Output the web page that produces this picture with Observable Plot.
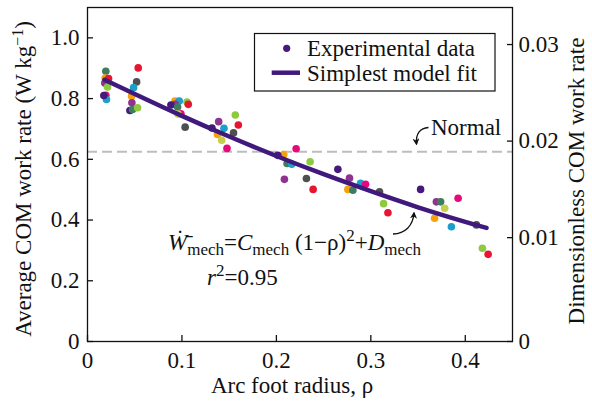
<!DOCTYPE html>
<html><head><meta charset="utf-8">
<script src="https://cdn.jsdelivr.net/npm/d3@7"></script>
<script src="https://cdn.jsdelivr.net/npm/@observablehq/plot@0.6"></script>
<style>
body{margin:0;background:#fff}
</style>
</head><body><div id="chart"></div>
<script>
// Experimental data (arc foot radius, average COM work rate, subject)
const rho = [0.0194,0.0187,0.0223,0.0183,0.0212,0.0194,0.0201,0.0173,
  0.0537,0.0520,0.0488,0.0467,0.0470,0.0449,0.0477,0.0530,
  0.0926,0.0971,0.0929,0.0883,0.1053,0.1067,0.0954,0.0989,0.0958,0.1034,
  0.1389,0.1565,0.1597,0.1445,0.1546,0.1318,0.1376,0.1421,0.1477,
  0.2209,0.2078,0.2015,0.2113,0.2163,0.2357,0.2085,0.2318,0.2389,
  0.2651,0.2774,0.2891,0.2944,0.2757,0.2810,0.3092,0.3135,0.3181,
  0.3527,0.3694,0.3739,0.3782,0.3924,0.3675,0.3853,0.4118,0.4181,0.4242];
const work = [0.890,0.868,0.866,0.851,0.838,0.811,0.797,0.810,
  0.901,0.855,0.836,0.808,0.786,0.761,0.764,0.770,
  0.792,0.792,0.781,0.779,0.789,0.781,0.772,0.750,0.749,0.706,
  0.724,0.746,0.713,0.702,0.687,0.703,0.682,0.663,0.636,
  0.635,0.616,0.613,0.586,0.584,0.592,0.534,0.537,0.501,
  0.567,0.538,0.521,0.518,0.501,0.498,0.493,0.454,0.424,
  0.501,0.460,0.460,0.439,0.472,0.406,0.378,0.384,0.307,0.287];
const subject = ["S2","S3","S4","S10","S8","S5","S6","S1",
  "S4","S7","S6","S3","S10","S1","S2","S8",
  "S3","S6","S10","S1","S8","S4","S2","S5","S9","S7",
  "S10","S8","S4","S6","S7","S1","S3","S9","S5",
  "S5","S3","S1","S2","S6","S8","S10","S7","S4",
  "S1","S10","S6","S5","S3","S2","S7","S8","S4",
  "S1","S10","S2","S9","S5","S3","S6","S7","S8","S4"];
const subjects = ["S1","S2","S3","S4","S5","S6","S7","S8","S9","S10"];
const subjectColors = ["#46197d","#3f7d5e","#f4a00f","#e81530","#e5097b","#1ba0cb","#4e5050","#8dca3d","#c5cf4a","#8e3490"];

// Simplest model fit
const fitRho  = [0.018,0.05,0.10,0.15,0.20,0.25,0.30,0.35,0.40,0.4225];
const fitWork = [0.862,0.815,0.743,0.675,0.611,0.551,0.495,0.442,0.394,0.374];

const normalLevel = 0.625;
const xTicks = [0,0.1,0.2,0.3,0.4];
const yTicks = [0,0.2,0.4,0.6,0.8,1.0];
const rightTickLabels = ["0","0.01","0.02","0.03"];
const rightTickAt = [0,0.342,0.660,0.978];

const points = rho.map((r,i)=>({rho:r, work:work[i], subject:subject[i]}));
const fit = fitRho.map((r,i)=>({rho:r, work:fitWork[i]}));

const FS = 23;
const SERIF = "'Liberation Serif', 'Times New Roman', serif";
const plot = Plot.plot({
  width: 592, height: 404,
  marginLeft: 87, marginRight: 80, marginTop: 7, marginBottom: 63,
  style: {fontSize: FS+"px", color:"#111", background:"#fff"},
  x: {domain:[0,0.45]},
  y: {domain:[0,1.1]},
  color: {domain: subjects, range: subjectColors},
  marks: [
    Plot.ruleY([normalLevel], {stroke:"#bdbdbd", strokeWidth:2, strokeDasharray:"10,5"}),
    Plot.dot(points, {x:"rho", y:"work", fill:"subject", r:3.8}),
    Plot.line(fit, {x:"rho", y:"work", stroke:"#40197c", strokeWidth:4.5, curve:"natural"}),
    Plot.frame({stroke:"#111", strokeWidth:1.3}),
    Plot.axisX({ticks:xTicks, tickSize:-6, tickPadding:16, fontSize:FS, label:null, strokeWidth:1.3,
      tickFormat: d => d===0 ? "0" : d.toFixed(1)}),
    Plot.axisY({ticks:yTicks, tickSize:-6, tickPadding:14, fontSize:FS, label:null, strokeWidth:1.3,
      tickFormat: d => d===0 ? "0" : d.toFixed(1)}),
    Plot.axisY({anchor:"right", ticks:rightTickAt, tickSize:-6, tickPadding:12, fontSize:FS, label:null, strokeWidth:1.3,
      tickFormat: d => rightTickLabels[rightTickAt.indexOf(d)]})
  ]
});
document.getElementById("chart").appendChild(plot);

const svg = d3.select(plot);
const g = svg.append("g").attr("fill","#111").attr("text-anchor","start");

// axis titles
g.append("text").attr("x",292).attr("y",393).attr("text-anchor","middle").attr("font-size",FS)
  .text("Arc foot radius, ρ");
const yl = g.append("text").attr("transform","translate(31,179) rotate(-90)").attr("text-anchor","middle").attr("font-size",FS);
yl.append("tspan").text("Average COM work rate (W kg");
yl.append("tspan").attr("dy",-8).attr("font-size",16).text("−1");
yl.append("tspan").attr("dy",8).text(")");
g.append("text").attr("transform","translate(584,181) rotate(-90)").attr("text-anchor","middle").attr("font-size",FS)
  .text("Dimensionless COM work rate");

// legend
const lg = svg.append("g").attr("text-anchor","start");
lg.append("rect").attr("x",254.5).attr("y",33.5).attr("width",240.5).attr("height",57.5)
  .attr("fill","#fff").attr("stroke","#111").attr("stroke-width",1.2);
lg.append("circle").attr("cx",286.7).attr("cy",48.3).attr("r",3.6).attr("fill","#46197d");
lg.append("line").attr("x1",271.7).attr("x2",300).attr("y1",72.7).attr("y2",72.7).attr("stroke","#40197c").attr("stroke-width",4.5);
lg.append("text").attr("x",307).attr("y",56).attr("font-size",FS).attr("fill","#111").text("Experimental data");
lg.append("text").attr("x",307).attr("y",81).attr("font-size",FS).attr("fill","#111").text("Simplest model fit");

// arrow marker
const defs = svg.append("defs");
defs.append("marker").attr("id","ah").attr("viewBox","0 0 10 10").attr("refX",8).attr("refY",5)
  .attr("markerWidth",7).attr("markerHeight",7).attr("orient","auto-start-reverse")
  .attr("markerUnits","userSpaceOnUse")
  .append("path").attr("d","M0,0 L10,5 L0,10 L3,5 Z").attr("fill","#111");

// Normal annotation
g.append("text").attr("x",431).attr("y",135).attr("font-size",FS).text("Normal");
g.append("path").attr("d","M416.5,144 C415.5,134 420,128 428.5,127.5").attr("fill","none")
  .attr("stroke","#111").attr("stroke-width",1.3).attr("marker-start","url(#ah)");

// Formula annotation
g.append("path").attr("d","M393,234 C405,233.5 413,226 414,213").attr("fill","none")
  .attr("stroke","#111").attr("stroke-width",1.3).attr("marker-end","url(#ah)");
const f = g.append("text").attr("x",168).attr("y",250).attr("font-size",FS);
f.append("tspan").attr("font-style","italic").text("W\u0307\u0304");
f.append("tspan").attr("dy",5).attr("font-size",17).text("mech");
f.append("tspan").attr("dy",-5).text("=");
f.append("tspan").attr("font-style","italic").text("C");
f.append("tspan").attr("dy",5).attr("font-size",17).text("mech");
f.append("tspan").attr("dy",-5).text(" (1−ρ)");
f.append("tspan").attr("dy",-9).attr("font-size",17).text("2");
f.append("tspan").attr("dy",9).text("+");
f.append("tspan").attr("font-style","italic").text("D");
f.append("tspan").attr("dy",5).attr("font-size",17).text("mech");
const r2 = g.append("text").attr("x",207).attr("y",285).attr("font-size",FS);
r2.append("tspan").attr("font-style","italic").text("r");
r2.append("tspan").attr("dy",-9).attr("font-size",17).text("2");
r2.append("tspan").attr("dy",9).text("=0.95");

// serif font everywhere (inline style beats Plot's class stylesheet)
plot.style.fontFamily = SERIF;
plot.querySelectorAll("text, tspan").forEach(t => t.style.fontFamily = SERIF);
</script>
</body></html>
